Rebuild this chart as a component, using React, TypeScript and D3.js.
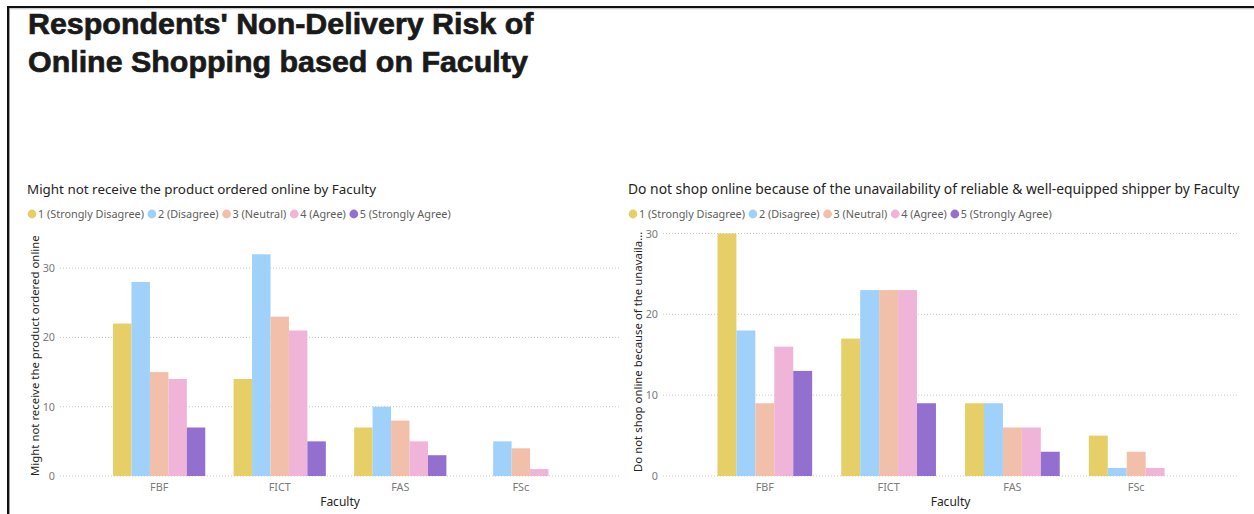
import React from "react";
import * as d3 from "d3";

// Faculties on the x axis
const faculties = ["FBF", "FICT", "FAS", "FSc"];

// Likert levels (legend order)
const levels = [
  "1 (Strongly Disagree)",
  "2 (Disagree)",
  "3 (Neutral)",
  "4 (Agree)",
  "5 (Strongly Agree)",
];
const levelColors = ["#E6CF66", "#A0D1FB", "#F2C0AA", "#F0B4D9", "#9370CF"];

// "Might not receive the product ordered online" — counts per faculty
const receiveStronglyDisagree = [22, 14, 7, 0];
const receiveDisagree = [28, 32, 10, 5];
const receiveNeutral = [15, 23, 8, 4];
const receiveAgree = [14, 21, 5, 1];
const receiveStronglyAgree = [7, 5, 3, 0];

// "Do not shop online because of the unavailability of reliable shipper" — counts per faculty
const shipperStronglyDisagree = [30, 17, 9, 5];
const shipperDisagree = [18, 23, 9, 1];
const shipperNeutral = [9, 23, 6, 3];
const shipperAgree = [16, 23, 6, 1];
const shipperStronglyAgree = [13, 9, 3, 0];

const yTicks = [0, 10, 20, 30];

const FONT_NAME = "Noto Sans";
const FONT = "'Segoe UI', 'Noto Sans', 'Open Sans', sans-serif";

// text measurement for legend layout
let measureCtx: CanvasRenderingContext2D | null = null;
function textWidth(s: string, size: number): number {
  if (!measureCtx) {
    const c = document.createElement("canvas");
    measureCtx = c.getContext("2d");
  }
  if (!measureCtx) return s.length * size * 0.5;
  measureCtx.font = `${size}px '${FONT_NAME}'`;
  return measureCtx.measureText(s).width;
}

function Legend({ x0, y }: { x0: number; y: number }) {
  // size chosen so the first label spans ~106px
  const base = textWidth(levels[0], 11);
  const size = base > 0 ? (11 * 106) / base : 10.8;
  let cx = x0 + 5;
  const items = levels.map((lab, i) => {
    const it = { lab, i, cx };
    cx += 6 + textWidth(lab, size) + 8;
    return it;
  });
  return (
    <g>
      {items.map((it) => (
        <g key={it.lab}>
          <circle cx={it.cx} cy={y} r={4.4} fill={levelColors[it.i]} />
          <text
            x={it.cx + 6}
            y={y + 3.9}
            fontFamily={FONT}
            fontSize={size}
            fill="#605E5C"
          >
            {it.lab}
          </text>
        </g>
      ))}
    </g>
  );
}

type ChartProps = {
  x0: number;
  title: string;
  titleSize: number;
  yTitle: string;
  yTitleStart: number;
  series: number[][];
  yMax: number;
  plotLeft: number;
  plotRight: number;
};

function ClusteredChart({
  x0,
  title,
  titleSize,
  yTitle,
  yTitleStart,
  series,
  yMax,
  plotLeft,
  plotRight,
}: ChartProps) {
  const plotTop = 233.5;
  const plotBottom = 476;

  const x = d3
    .scaleBand<string>()
    .domain(faculties)
    .range([plotLeft, plotRight])
    .paddingInner(0.235)
    .paddingOuter(0.44);
  const inner = d3
    .scaleBand<number>()
    .domain(levels.map((_, i) => i))
    .range([0, x.bandwidth()]);
  const y = d3.scaleLinear().domain([0, yMax]).range([plotBottom, plotTop]);

  return (
    <g>
      <text x={x0} y={194} fontFamily={FONT} fontSize={titleSize} fill="#252423">
        {title}
      </text>
      <Legend x0={x0} y={214} />

      {/* gridlines and value ticks */}
      {yTicks.map((t) => (
        <g key={t}>
          <line
            x1={plotLeft}
            x2={plotRight}
            y1={y(t)}
            y2={y(t)}
            stroke="#C8C8C8"
            strokeWidth={1}
            strokeDasharray="1 2"
          />
          <text
            x={plotLeft - 5}
            y={y(t) + 4}
            textAnchor="end"
            fontFamily={FONT}
            fontSize={10.8}
            fill="#7A7A7A"
          >
            {t}
          </text>
        </g>
      ))}

      {/* clustered bars */}
      {faculties.map((f, fi) => (
        <g key={f} transform={`translate(${x(f)},0)`}>
          {series.map((s, si) =>
            s[fi] > 0 ? (
              <rect
                key={si}
                x={inner(si)}
                y={y(s[fi])}
                width={inner.bandwidth()}
                height={y(0) - y(s[fi])}
                fill={levelColors[si]}
              />
            ) : null
          )}
        </g>
      ))}

      {/* category labels */}
      {faculties.map((f) => (
        <text
          key={f}
          x={(x(f) as number) + x.bandwidth() / 2}
          y={491}
          textAnchor="middle"
          fontFamily={FONT}
          fontSize={10.8}
          fill="#7A7A7A"
        >
          {f}
        </text>
      ))}
      <text
        x={(plotLeft + plotRight) / 2}
        y={506}
        textAnchor="middle"
        fontFamily={FONT}
        fontSize={12}
        fill="#252423"
      >
        Faculty
      </text>

      {/* value axis title */}
      <text
        transform={`translate(${plotLeft - 21},${yTitleStart}) rotate(-90)`}
        textAnchor="start"
        fontFamily={FONT}
        fontSize={11.4}
        fill="#252423"
      >
        {yTitle}
      </text>
    </g>
  );
}

export default function App() {
  const titleFont = "'Liberation Sans', Arial, sans-serif";
  return (
    <div style={{ position: "absolute", left: 0, top: 0 }}>
      <svg width={1254} height={514} style={{ display: "block", background: "#fff" }}>
        <rect x={0} y={0} width={1254} height={514} fill="#fff" />
        {/* frame */}
        <rect x={7} y={6} width={1247} height={2.2} fill="#111" />
        <rect x={7} y={6} width={2.4} height={508} fill="#111" />
        <line x1={9.4} x2={1254} y1={8.9} y2={8.9} stroke="#ccc" strokeWidth={0.8} />

        <text
          x={28}
          y={34}
          fontFamily={titleFont}
          fontWeight="bold"
          fontSize={30.4}
          fill="#1a1a1a"
          stroke="#1a1a1a"
          strokeWidth={0.7}
        >
          Respondents' Non-Delivery Risk of
        </text>
        <text
          x={28}
          y={72}
          fontFamily={titleFont}
          fontWeight="bold"
          fontSize={30.4}
          fill="#1a1a1a"
          stroke="#1a1a1a"
          strokeWidth={0.7}
        >
          Online Shopping based on Faculty
        </text>

        <ClusteredChart
          x0={27}
          title="Might not receive the product ordered online by Faculty"
          titleSize={13.4}
          yTitle="Might not receive the product ordered online"
          yTitleStart={476}
          series={[
            receiveStronglyDisagree,
            receiveDisagree,
            receiveNeutral,
            receiveAgree,
            receiveStronglyAgree,
          ]}
          yMax={35}
          plotLeft={60}
          plotRight={620}
        />
        <ClusteredChart
          x0={628}
          title="Do not shop online because of the unavailability of reliable & well-equipped shipper by Faculty"
          titleSize={13.85}
          yTitle="Do not shop online because of the unavaila..."
          yTitleStart={472}
          series={[
            shipperStronglyDisagree,
            shipperDisagree,
            shipperNeutral,
            shipperAgree,
            shipperStronglyAgree,
          ]}
          yMax={30}
          plotLeft={663}
          plotRight={1238}
        />
      </svg>
    </div>
  );
}
